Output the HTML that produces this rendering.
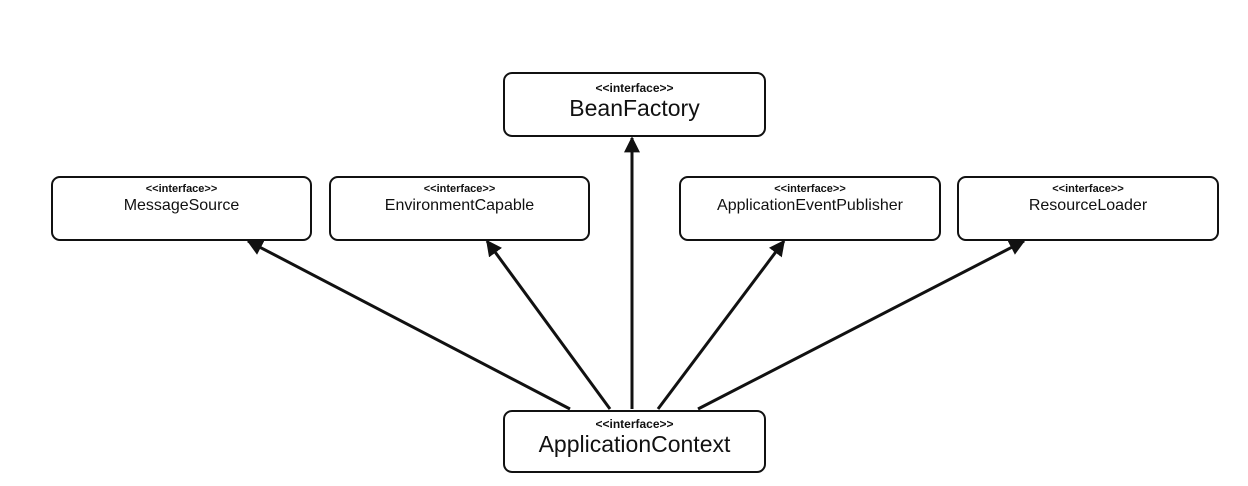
<!DOCTYPE html>
<html><head><style>
body{margin:0;width:1248px;height:486px;background:#fff;position:relative;font-family:"Liberation Sans",sans-serif;overflow:hidden}
.b{position:absolute;border:2px solid #111;border-radius:9px;box-sizing:border-box;text-align:center;color:#111;background:#fff}
.s{font-size:11px;font-weight:bold;line-height:12px}
.n{font-size:16px;line-height:22px}
.big .s{font-size:12px;line-height:13px}
.big .n{font-size:23px;line-height:27px}
</style></head><body>
<svg width="1248" height="486" style="position:absolute;left:0;top:0">
<defs>
<marker id="h" viewBox="0 0 10 10" markerWidth="16" markerHeight="16" refX="9" refY="5" orient="auto" markerUnits="userSpaceOnUse"><path d="M0,0 L10,5 L0,10 z" fill="#111"/></marker></defs>
<g stroke="#111" stroke-width="3" fill="none">
<line x1="570" y1="409" x2="248" y2="241" marker-end="url(#h)"/>
<line x1="610" y1="409" x2="487" y2="241" marker-end="url(#h)"/>
<line x1="632" y1="409" x2="632" y2="138" marker-end="url(#h)"/>
<line x1="658" y1="409" x2="784" y2="241" marker-end="url(#h)"/>
<line x1="698" y1="409" x2="1024" y2="241" marker-end="url(#h)"/>
</g></svg>
<div class="b big" style="left:503px;top:72px;width:263px;height:65px;padding-top:8px"><div class="s">&lt;&lt;interface&gt;&gt;</div><div class="n">BeanFactory</div></div>
<div class="b" style="left:51px;top:176px;width:261px;height:65px;padding-top:5px"><div class="s">&lt;&lt;interface&gt;&gt;</div><div class="n">MessageSource</div></div>
<div class="b" style="left:329px;top:176px;width:261px;height:65px;padding-top:5px"><div class="s">&lt;&lt;interface&gt;&gt;</div><div class="n">EnvironmentCapable</div></div>
<div class="b" style="left:679px;top:176px;width:262px;height:65px;padding-top:5px"><div class="s">&lt;&lt;interface&gt;&gt;</div><div class="n">ApplicationEventPublisher</div></div>
<div class="b" style="left:957px;top:176px;width:262px;height:65px;padding-top:5px"><div class="s">&lt;&lt;interface&gt;&gt;</div><div class="n">ResourceLoader</div></div>
<div class="b big" style="left:503px;top:410px;width:263px;height:63px;padding-top:6px"><div class="s">&lt;&lt;interface&gt;&gt;</div><div class="n">ApplicationContext</div></div>
</body></html>
